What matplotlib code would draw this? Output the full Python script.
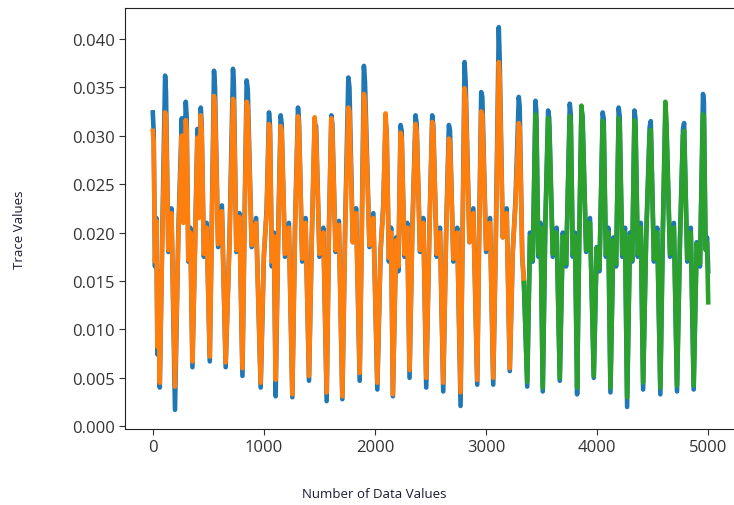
import matplotlib
matplotlib.use("Agg")
import matplotlib.pyplot as plt

sample_idx = [
    0, 8, 20, 32, 42, 50, 63, 85,
    111, 119, 140, 168, 200, 230, 261, 275,
    297, 305, 320, 338, 357, 380, 402, 415,
    432, 440, 460, 485, 513, 530,
    551, 560, 588, 622, 656, 690,
    722, 730, 752, 780, 807, 825,
    845, 855, 890, 930, 971, 1000, 1025,
    1046, 1055, 1072, 1090, 1106, 1128,
    1151, 1160, 1190, 1225, 1256, 1280,
    1307, 1316, 1345, 1375, 1406, 1430,
    1457, 1470, 1500, 1535, 1565, 1585,
    1607, 1616, 1645, 1675, 1706, 1732,
    1760, 1770, 1800, 1830, 1862, 1880,
    1900, 1910, 1950, 1985, 2021, 2050, 2075,
    2095, 2105, 2125, 2145, 2161, 2190, 2210,
    2230, 2240, 2265, 2290, 2311, 2335,
    2365, 2375, 2405, 2435, 2461, 2488,
    2515, 2525, 2555, 2585, 2614, 2640,
    2665, 2675, 2705, 2740, 2770, 2788,
    2806, 2816, 2850, 2885, 2920, 2938,
    2956, 2966, 3000, 3035, 3064, 3088,
    3114, 3122, 3150, 3185, 3213, 3240, 3265,
    3294, 3302, 3325, 3340, 3370, 3395, 3420,
    3444, 3452, 3470, 3490, 3510, 3532,
    3558, 3568, 3600, 3635, 3663, 3690, 3720,
    3753, 3762, 3780, 3800, 3819, 3838,
    3858, 3868, 3900, 3935, 3969, 3995, 4020,
    4049, 4058, 4078, 4100, 4119, 4145, 4170,
    4193, 4202, 4225, 4250, 4269, 4295, 4315,
    4335, 4344, 4365, 4392, 4413, 4440,
    4472, 4482, 4510, 4540, 4568, 4590,
    4613, 4622, 4655, 4690, 4718, 4745,
    4772, 4782, 4810, 4842, 4868, 4895, 4925,
    4952, 4960, 4975, 4988, 4999,
]

actual = [
    0.0324, 0.0305, 0.0165, 0.0215, 0.0074, 0.0160, 0.0040, 0.0195,
    0.0362, 0.0345, 0.0180, 0.0225, 0.0017, 0.0200, 0.0318, 0.0215,
    0.0335, 0.0320, 0.0170, 0.0205, 0.0061, 0.0185, 0.0307, 0.0220,
    0.0329, 0.0312, 0.0175, 0.0210, 0.0067, 0.0200,
    0.0367, 0.0350, 0.0185, 0.0228, 0.0061, 0.0190,
    0.0369, 0.0352, 0.0180, 0.0220, 0.0052, 0.0205,
    0.0357, 0.0348, 0.0185, 0.0215, 0.0040, 0.0175, 0.0225,
    0.0324, 0.0310, 0.0165, 0.0200, 0.0031, 0.0195,
    0.0321, 0.0312, 0.0175, 0.0210, 0.0030, 0.0205,
    0.0329, 0.0315, 0.0170, 0.0215, 0.0047, 0.0190,
    0.0312, 0.0310, 0.0175, 0.0205, 0.0026, 0.0200,
    0.0321, 0.0312, 0.0180, 0.0212, 0.0028, 0.0210,
    0.0360, 0.0350, 0.0190, 0.0225, 0.0047, 0.0195,
    0.0372, 0.0355, 0.0185, 0.0220, 0.0038, 0.0180, 0.0230,
    0.0315, 0.0305, 0.0170, 0.0205, 0.0031, 0.0195, 0.0160,
    0.0311, 0.0305, 0.0175, 0.0210, 0.0050, 0.0200,
    0.0321, 0.0312, 0.0180, 0.0215, 0.0040, 0.0195,
    0.0321, 0.0310, 0.0175, 0.0205, 0.0036, 0.0200,
    0.0311, 0.0305, 0.0170, 0.0205, 0.0021, 0.0200,
    0.0376, 0.0355, 0.0190, 0.0225, 0.0043, 0.0205,
    0.0345, 0.0340, 0.0180, 0.0215, 0.0043, 0.0200,
    0.0412, 0.0380, 0.0195, 0.0225, 0.0057, 0.0180, 0.0235,
    0.0340, 0.0330, 0.0175, 0.0150, 0.0041, 0.0200, 0.0170,
    0.0336, 0.0325, 0.0175, 0.0210, 0.0036, 0.0205,
    0.0326, 0.0318, 0.0175, 0.0205, 0.0047, 0.0200, 0.0165,
    0.0333, 0.0322, 0.0175, 0.0200, 0.0033, 0.0195,
    0.0328, 0.0320, 0.0180, 0.0215, 0.0050, 0.0185, 0.0160,
    0.0324, 0.0318, 0.0175, 0.0205, 0.0035, 0.0195, 0.0165,
    0.0329, 0.0320, 0.0175, 0.0205, 0.0020, 0.0200, 0.0170,
    0.0326, 0.0318, 0.0175, 0.0210, 0.0038, 0.0195,
    0.0309, 0.0315, 0.0170, 0.0205, 0.0033, 0.0200,
    0.0319, 0.0312, 0.0175, 0.0210, 0.0036, 0.0195,
    0.0307, 0.0313, 0.0170, 0.0205, 0.0038, 0.0190, 0.0165,
    0.0343, 0.0335, 0.0185, 0.0195, 0.0160,
]

predicted = [
    0.0305, 0.0295, 0.0170, 0.0212, 0.0082, 0.0158, 0.0045, 0.0190,
    0.0324, 0.0318, 0.0182, 0.0220, 0.0041, 0.0196, 0.0300, 0.0210,
    0.0316, 0.0305, 0.0172, 0.0200, 0.0067, 0.0182, 0.0298, 0.0215,
    0.0321, 0.0305, 0.0178, 0.0205, 0.0072, 0.0195,
    0.0341, 0.0330, 0.0188, 0.0222, 0.0066, 0.0188,
    0.0338, 0.0332, 0.0182, 0.0216, 0.0060, 0.0200,
    0.0335, 0.0330, 0.0187, 0.0210, 0.0045, 0.0178, 0.0220,
    0.0312, 0.0302, 0.0170, 0.0196, 0.0048, 0.0190,
    0.0310, 0.0305, 0.0178, 0.0205, 0.0033, 0.0200,
    0.0320, 0.0308, 0.0173, 0.0210, 0.0052, 0.0188,
    0.0319, 0.0300, 0.0178, 0.0200, 0.0035, 0.0196,
    0.0318, 0.0306, 0.0182, 0.0208, 0.0031, 0.0205,
    0.0329, 0.0325, 0.0190, 0.0220, 0.0055, 0.0192,
    0.0343, 0.0335, 0.0187, 0.0215, 0.0045, 0.0182, 0.0225,
    0.0323, 0.0300, 0.0174, 0.0200, 0.0033, 0.0192, 0.0165,
    0.0303, 0.0298, 0.0178, 0.0205, 0.0058, 0.0196,
    0.0312, 0.0305, 0.0182, 0.0210, 0.0050, 0.0192,
    0.0314, 0.0305, 0.0178, 0.0200, 0.0045, 0.0196,
    0.0297, 0.0293, 0.0173, 0.0200, 0.0035, 0.0195,
    0.0349, 0.0338, 0.0190, 0.0220, 0.0048, 0.0200,
    0.0325, 0.0322, 0.0183, 0.0210, 0.0050, 0.0196,
    0.0376, 0.0360, 0.0195, 0.0220, 0.0060, 0.0182, 0.0230,
    0.0313, 0.0308, 0.0178, 0.0148, 0.0046, 0.0196, 0.0172,
    0.0322, 0.0315, 0.0178, 0.0205, 0.0040, 0.0200,
    0.0318, 0.0310, 0.0178, 0.0200, 0.0050, 0.0196, 0.0168,
    0.0320, 0.0312, 0.0178, 0.0196, 0.0040, 0.0192,
    0.0331, 0.0315, 0.0182, 0.0210, 0.0052, 0.0184, 0.0163,
    0.0315, 0.0310, 0.0178, 0.0200, 0.0040, 0.0192, 0.0168,
    0.0318, 0.0312, 0.0178, 0.0200, 0.0030, 0.0196, 0.0172,
    0.0316, 0.0310, 0.0178, 0.0205, 0.0045, 0.0192,
    0.0302, 0.0306, 0.0173, 0.0200, 0.0040, 0.0196,
    0.0335, 0.0318, 0.0178, 0.0205, 0.0042, 0.0192,
    0.0300, 0.0305, 0.0173, 0.0200, 0.0042, 0.0188, 0.0168,
    0.0322, 0.0318, 0.0182, 0.0190, 0.0128,
]

split_idx = 3340  # end of training part / start of test part

train_x = [i for i in sample_idx if i <= split_idx]
train_y = [p for i, p in zip(sample_idx, predicted) if i <= split_idx]
test_x = [i for i in sample_idx if i >= split_idx]
test_y = [p for i, p in zip(sample_idx, predicted) if i >= split_idx]

plt.rcParams["font.family"] = ["Open Sans", "DejaVu Sans"]

fig = plt.figure(figsize=(7.34, 5.06), dpi=100)
ax = fig.add_axes([125 / 734, 76 / 506, 611 / 734, 421 / 506])

lw = 3.3
ax.plot(sample_idx, actual, color="#1f77b4", lw=lw)
ax.plot(train_x, train_y, color="#ff7f0e", lw=lw)
ax.plot(test_x, test_y, color="#2ca02c", lw=lw)

ax.set_xticks([0, 1000, 2000, 3000, 4000, 5000])
ax.set_yticks([0.000, 0.005, 0.010, 0.015, 0.020, 0.025, 0.030, 0.035, 0.040])
ax.set_yticklabels(["%.3f" % v for v in ax.get_yticks()])
ax.tick_params(labelsize=12, colors="#333333", length=4)
for s in ax.spines.values():
    s.set_color("#222222")

fig.text(20 / 734, 1 - 230 / 506, "Trace Values", rotation=90,
         ha="center", va="center", fontsize=9.5, color="#1a1a33")
fig.text(374 / 734, 1 - 495 / 506, "Number of Data Values",
         ha="center", va="center", fontsize=9.5, color="#1a1a33")

fig.savefig("out.png", dpi=100)
